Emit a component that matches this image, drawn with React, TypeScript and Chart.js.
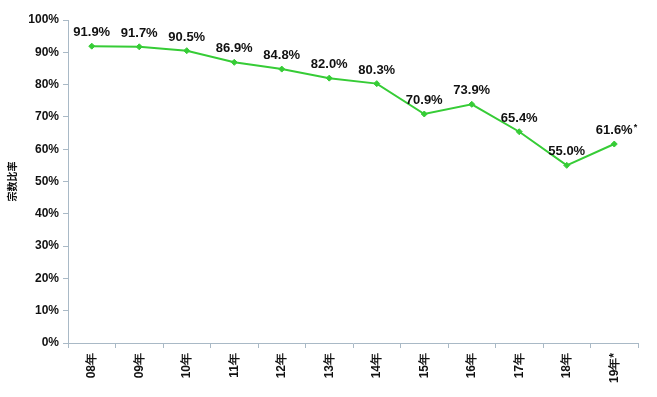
import React, { useEffect, useRef } from "react";
import { Chart, registerables } from "chart.js";

Chart.register(...registerables);

const categories = ["08年", "09年", "10年", "11年", "12年", "13年", "14年", "15年", "16年", "17年", "18年", "19年*"];
const values = [91.9, 91.7, 90.5, 86.9, 84.8, 82.0, 80.3, 70.9, 73.9, 65.4, 55.0, 61.6];
const valueLabels = ["91.9%", "91.7%", "90.5%", "86.9%", "84.8%", "82.0%", "80.3%", "70.9%", "73.9%", "65.4%", "55.0%", "61.6%*"];
const yTitle = "宗数比率";

const GREEN = "#36cc36";
const AXIS = "#a9b9c6";

const labelPlugin = {
  id: "valueLabels",
  afterDatasetsDraw(chart: any) {
    const ctx = chart.ctx;
    const meta = chart.getDatasetMeta(0);
    ctx.save();
    ctx.fillStyle = "#111111";
    ctx.font = 'bold 13px "Liberation Sans", Arial, sans-serif';
    ctx.textAlign = "center";
    ctx.textBaseline = "alphabetic";
    meta.data.forEach((pt: any, i: number) => {
      const txt = valueLabels[i];
      if (txt.endsWith("*")) {
        const base = txt.slice(0, -1);
        const w = ctx.measureText(base).width;
        ctx.fillText(base, pt.x, pt.y - 10);
        ctx.font = 'bold 9px "Liberation Sans", Arial, sans-serif';
        ctx.textAlign = "left";
        ctx.fillText("*", pt.x + w / 2 + 1, pt.y - 14);
        ctx.font = 'bold 13px "Liberation Sans", Arial, sans-serif';
        ctx.textAlign = "center";
      } else {
        ctx.fillText(txt, pt.x, pt.y - 10);
      }
    });
    ctx.restore();
  },
};

export default function App() {
  const ref = useRef<HTMLCanvasElement | null>(null);
  useEffect(() => {
    if (!ref.current) return;
    const chart = new Chart(ref.current, {
      type: "line",
      data: {
        labels: categories,
        datasets: [
          {
            data: values,
            borderColor: GREEN,
            backgroundColor: GREEN,
            borderWidth: 2,
            pointStyle: "rectRot",
            pointRadius: 3,
            pointBorderWidth: 1,
            tension: 0,
          },
        ],
      },
      plugins: [labelPlugin],
      options: {
        responsive: false,
        animation: false,
        layout: { padding: { top: 20, right: 19, left: 0, bottom: 0 } },
        plugins: { legend: { display: false }, tooltip: { enabled: false } },
        scales: {
          x: {
            offset: true,
            grid: { offset: true, drawOnChartArea: false, drawTicks: true, tickLength: 5, color: AXIS },
            border: { color: AXIS, width: 1 },
            ticks: {
              minRotation: 90,
              maxRotation: 90,
              padding: 5,
              color: "#111111",
              font: { family: '"Liberation Sans", Arial, sans-serif', size: 12, weight: "bold" },
            },
            afterFit(scale: any) {
              scale.height = 54;
            },
          },
          y: {
            min: 0,
            max: 100,
            grid: { drawOnChartArea: false, drawTicks: true, tickLength: 5, color: AXIS },
            border: { color: AXIS, width: 1 },
            ticks: {
              stepSize: 10,
              padding: 4,
              color: "#111111",
              font: { family: '"Liberation Sans", Arial, sans-serif', size: 12, weight: "bold" },
              callback: (v: any) => v + "%",
            },
            title: {
              display: true,
              text: yTitle,
              color: "#111111",
              padding: { top: 6, bottom: 0 },
              font: { family: '"Noto Sans CJK SC", sans-serif', size: 10, weight: "bold" },
            },
            afterFit(scale: any) {
              scale.width = 68;
            },
          },
        },
      },
    });
    return () => chart.destroy();
  }, []);
  return (
    <div style={{ position: "fixed", left: 0, top: 0, width: 657, height: 397, background: "#fff" }}>
      <canvas ref={ref} width={657} height={397} style={{ display: "block" }} />
    </div>
  );
}
